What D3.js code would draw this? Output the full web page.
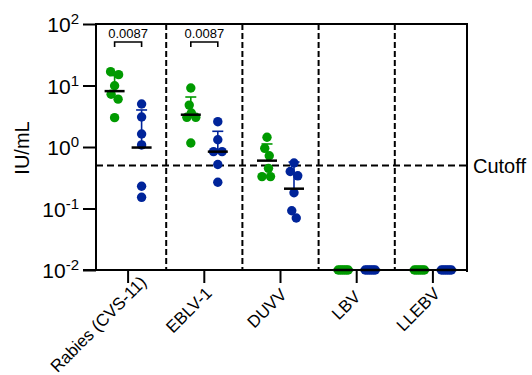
<!DOCTYPE html>
<html>
<head>
<meta charset="utf-8">
<script src="https://cdn.jsdelivr.net/npm/d3@7"></script>
<style>
  body { margin: 0; background: #fff; }
  svg text { font-family: "Liberation Sans", Arial, sans-serif; fill: #000; }
</style>
</head>
<body>
<div id="chart"></div>
<script>
// data
const categories = ["Rabies (CVS-11)", "EBLV-1", "DUVV", "LBV", "LLEBV"];
const seriesNames = ["s1", "s2"];
const seriesColors = ["#009a00", "#00249a"];

const s1Values = [
  [16.8, 15.0, 9.9, 7.2, 6.0, 3.0],
  [9.1, 4.8, 3.57, 3.04, 3.04, 1.16],
  [1.44, 0.95, 0.72, 0.45, 0.33, 0.33],
  [0.01, 0.01, 0.01, 0.01, 0.01, 0.01],
  [0.01, 0.01, 0.01, 0.01, 0.01, 0.01]
];
const s2Values = [
  [5.0, 3.07, 1.63, 1.08, 0.23, 0.152],
  [2.58, 1.31, 0.84, 0.84, 0.52, 0.267],
  [0.55, 0.40, 0.34, 0.18, 0.092, 0.070],
  [0.01, 0.01, 0.01, 0.01, 0.01, 0.01],
  [0.01, 0.01, 0.01, 0.01, 0.01, 0.01]
];
const s1Center = [8.1, 3.35, 0.6, 0.01, 0.01];
const s1Upper = [14.5, 6.5, 1.12, 0.01, 0.01];
const s2Center = [0.98, 0.84, 0.21, 0.01, 0.01];
const s2Upper = [4.0, 1.8, 0.57, 0.01, 0.01];

const cutoff = 0.5;
const yTicks = [0.01, 0.1, 1, 10, 100];
const yTickExp = ["-2", "-1", "0", "1", "2"];
const comparisons = [
  { category: "Rabies (CVS-11)", p: "0.0087" },
  { category: "EBLV-1", p: "0.0087" }
];

// dimensions
const w = 532, h = 375;
const pLeft = 96, pRight = 467, pTop = 24, pBottom = 270;
const r = 4.7;

const svg = d3.select("#chart").append("svg")
  .attr("width", w)
  .attr("height", h);

// scales
const x = d3.scaleBand().domain(categories).range([90, 471]);
const xSub = d3.scaleBand().domain(seriesNames).range([-27, 27]);
const y = d3.scaleLog().domain([0.01, 100]).range([pBottom, pTop]);
const cx = (c) => x(c) + x.bandwidth() / 2;

// frame
svg.append("path")
  .attr("d", "M" + pLeft + "," + pBottom + "V" + pTop + "H" + pRight + "V" + (pBottom + 2))
  .attr("fill", "none").attr("stroke", "#000").attr("stroke-width", 2);
svg.append("line")
  .attr("x1", pLeft - 13).attr("x2", pRight + 1)
  .attr("y1", pBottom).attr("y2", pBottom)
  .attr("stroke", "#000").attr("stroke-width", 2);

// y axis
const yAxis = svg.append("g")
  .attr("transform", "translate(" + pLeft + ",0)")
  .call(d3.axisLeft(y).tickValues(yTicks).tickSize(13).tickFormat(""));
yAxis.select(".domain").remove();
yAxis.selectAll(".tick line").attr("stroke-width", 2);

const yLab = svg.append("g").selectAll("text")
  .data(yTicks)
  .enter().append("text")
  .attr("x", 79)
  .attr("y", (d) => y(d) + 8)
  .attr("text-anchor", "end")
  .style("font-size", "21px");
yLab.append("tspan").text("10");
yLab.append("tspan")
  .attr("dy", -8)
  .style("font-size", "15px")
  .text((d, i) => yTickExp[i]);

// x axis
const xAxis = svg.append("g")
  .attr("transform", "translate(0," + pBottom + ")")
  .call(d3.axisBottom(x).tickSize(13).tickFormat(""));
xAxis.select(".domain").remove();
xAxis.selectAll(".tick line").attr("stroke-width", 2);

// rotated category labels, placed by their length like the original
svg.append("g").selectAll("text")
  .data(categories)
  .enter().append("text")
  .attr("text-anchor", "middle")
  .attr("dominant-baseline", "central")
  .style("font-size", "17px")
  .text((d) => d)
  .attr("transform", function(d) {
    const L = this.getComputedTextLength();
    return "translate(" + (cx(d) - 0.2 * L - 4) + "," + (299 + 0.2 * L) + ")rotate(-45)";
  });

// axis title
svg.append("text")
  .attr("transform", "translate(" + 22 + "," + 148 + ")rotate(-90)")
  .attr("text-anchor", "middle")
  .attr("dominant-baseline", "central")
  .style("font-size", "20px")
  .text("IU/mL");

// dashed dividers between categories
svg.append("g").selectAll("line")
  .data(categories.slice(1))
  .enter().append("line")
  .attr("x1", (d) => x(d)).attr("x2", (d) => x(d))
  .attr("y1", pTop).attr("y2", pBottom)
  .attr("stroke", "#000").attr("stroke-width", 2)
  .attr("stroke-dasharray", "6,3");

// cutoff line
svg.append("line")
  .attr("x1", pLeft).attr("x2", pRight)
  .attr("y1", y(cutoff)).attr("y2", y(cutoff))
  .attr("stroke", "#000").attr("stroke-width", 2)
  .attr("stroke-dasharray", "7,4");
svg.append("text")
  .attr("x", 473)
  .attr("y", y(cutoff))
  .attr("dominant-baseline", "central")
  .style("font-size", "20px")
  .text("Cutoff");

// spread overlapping dots sideways
function spread(values) {
  const D = 8.5, maxOff = 5;
  const pts = values.map((v) => ({ v: v, y: y(v), off: 0 }))
    .sort((a, b) => a.y - b.y);
  const placed = [];
  pts.forEach(function(p) {
    for (let k = 0; k < 400; k++) {
      const cand = (k % 2 ? 1 : -1) * Math.ceil(k / 2) * 0.5;
      if (placed.every((q) => Math.hypot(cand - q.off, p.y - q.y) >= D)) {
        p.off = cand;
        break;
      }
    }
    placed.push(p);
  });
  // group into clusters, centre them and keep them narrow
  const clusters = [];
  pts.forEach(function(p, i) {
    if (i === 0 || p.y - pts[i - 1].y >= D) clusters.push([]);
    clusters[clusters.length - 1].push(p);
  });
  clusters.forEach(function(c) {
    const m = d3.mean(c, (p) => p.off);
    c.forEach((p) => p.off -= m);
    const mx = d3.max(c, (p) => Math.abs(p.off));
    if (mx > maxOff) c.forEach((p) => p.off *= maxOff / mx);
  });
  return pts;
}

const groups = [
  { key: "s1", values: s1Values, center: s1Center, upper: s1Upper, color: seriesColors[0] },
  { key: "s2", values: s2Values, center: s2Center, upper: s2Upper, color: seriesColors[1] }
];

groups.forEach(function(g) {
  categories.forEach(function(c, i) {
    const gx = cx(c) + xSub(g.key) + xSub.bandwidth() / 2;

    svg.append("g").selectAll("circle")
      .data(spread(g.values[i]))
      .enter().append("circle")
      .attr("cx", (d) => gx + d.off)
      .attr("cy", (d) => d.y)
      .attr("r", r)
      .attr("fill", g.color);

    // upper error bar
    svg.append("line")
      .attr("x1", gx).attr("x2", gx)
      .attr("y1", y(g.center[i])).attr("y2", y(g.upper[i]))
      .attr("stroke", g.color).attr("stroke-width", 1.6);
    svg.append("line")
      .attr("x1", gx - 5.5).attr("x2", gx + 5.5)
      .attr("y1", y(g.upper[i])).attr("y2", y(g.upper[i]))
      .attr("stroke", g.color).attr("stroke-width", 1.6);

    // centre line
    svg.append("line")
      .attr("x1", gx - 10).attr("x2", gx + 10)
      .attr("y1", y(g.center[i])).attr("y2", y(g.center[i]))
      .attr("stroke", "#000").attr("stroke-width", 2.5);
  });
});

// significance brackets
comparisons.forEach(function(d) {
  const x1 = cx(d.category) + xSub("s1") + xSub.bandwidth() / 2;
  const x2 = cx(d.category) + xSub("s2") + xSub.bandwidth() / 2;
  svg.append("path")
    .attr("d", "M" + x1 + ",47V42H" + x2 + "V47")
    .attr("fill", "none").attr("stroke", "#000").attr("stroke-width", 1.6);
  svg.append("text")
    .attr("x", (x1 + x2) / 2)
    .attr("y", 38)
    .attr("text-anchor", "middle")
    .style("font-size", "13px")
    .text(d.p);
});
</script>
</body>
</html>
